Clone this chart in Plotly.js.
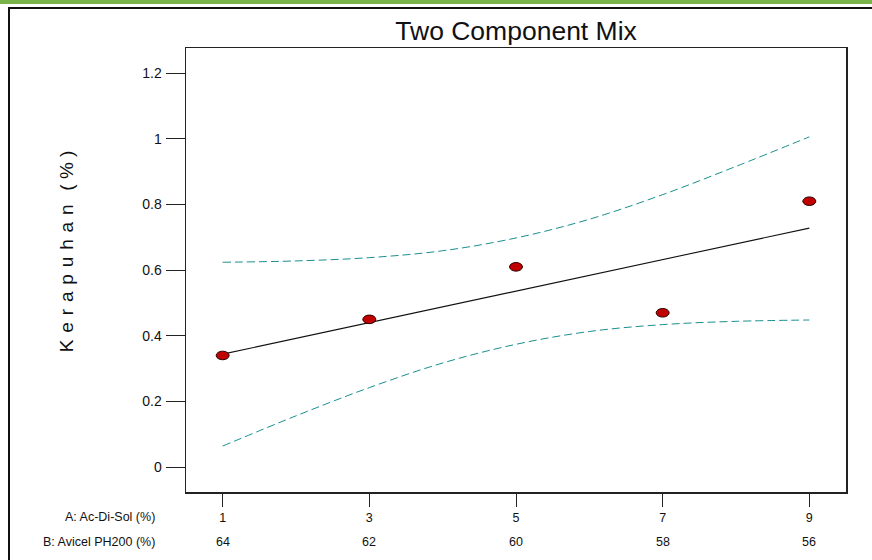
<!DOCTYPE html>
<html>
<head>
<meta charset="utf-8">
<script src="https://cdn.plot.ly/plotly-3.0.1.min.js"></script>
<style>
  html, body { margin: 0; padding: 0; background: #ffffff; overflow: hidden; }
  #wrap { position: relative; width: 872px; height: 560px; overflow: hidden; background: #fff; }
  #topbar { position: absolute; left: 0; top: 0; width: 872px; height: 4px; background: #79b44a; }
  #frame { position: absolute; left: 8px; top: 7px; width: 900px; height: 600px; border-left: 2px solid #111; border-top: 2px solid #111; box-sizing: border-box; }
  #chart { position: absolute; left: 0; top: 0; width: 872px; height: 560px; }
</style>
</head>
<body>
<div id="wrap">
  <div id="topbar"></div>
  <div id="frame"></div>
  <div id="chart"></div>
</div>
<script>
// ---- data ----
const factorA = [1, 3, 5, 7, 9];          // A: Ac-Di-Sol (%)
const factorB = [64, 62, 60, 58, 56];     // B: Avicel PH200 (%)
const obsX = [1, 3, 5, 7, 9];
const obsY = [0.34, 0.45, 0.61, 0.47, 0.81];
const fitX = [1, 9];
const fitY = [0.344, 0.728];
const bandX = [1, 2, 3, 4, 5, 6, 7, 8, 9];
const upperY = [0.624, 0.628, 0.638, 0.659, 0.698, 0.755, 0.830, 0.916, 1.006];
const lowerY = [0.064, 0.156, 0.242, 0.317, 0.374, 0.413, 0.434, 0.444, 0.448];
const yTicks = [0, 0.2, 0.4, 0.6, 0.8, 1, 1.2];
const yTickText = ['0', '0.2', '0.4', '0.6', '0.8', '1', '1.2'];
const rowLabels = ['A: Ac-Di-Sol (%)', 'B: Avicel PH200 (%)'];
const yTitleLetters = ['K','e','r','a','p','u','h','a','n'];
const yTitleUnit = ['(', '%', ')'];

const FONT = 'Arial, "Liberation Sans", sans-serif';
const teal = '#1a8f8f';

const traces = [
  { x: bandX, y: upperY, mode: 'lines', line: { color: teal, width: 1, dash: '8px,4px', shape: 'spline' }, hoverinfo: 'skip', showlegend: false },
  { x: bandX, y: lowerY, mode: 'lines', line: { color: teal, width: 1, dash: '8px,4px', shape: 'spline' }, hoverinfo: 'skip', showlegend: false },
  { x: fitX, y: fitY, mode: 'lines', line: { color: '#111', width: 1.1 }, showlegend: false },
  { x: obsX, y: obsY, mode: 'markers', marker: { color: '#c00000', size: 7, line: { width: 0 } }, showlegend: false }
];

// ellipse markers placed at the data points through the axes
const shapes = obsX.map((x, i) => ({
  type: 'circle', xref: 'x', yref: 'y',
  xsizemode: 'pixel', ysizemode: 'pixel',
  xanchor: x, yanchor: obsY[i],
  x0: -6.5, x1: 6.5, y0: -4.3, y1: 4.3,
  fillcolor: '#c00000', line: { color: '#2a0000', width: 1 }
}));

const XF = { family: FONT, size: 12.5, color: '#111' };
const YF = { family: FONT, size: 14, color: '#111' };
const annotations = [];
factorB.forEach((b, i) => {
  annotations.push({ x: factorA[i], xref: 'x', y: -0.112, yref: 'paper', text: String(b),
    showarrow: false, xanchor: 'center', yanchor: 'middle', font: XF });
});
annotations.push({ x: -0.044, xref: 'paper', y: -0.0555, yref: 'paper', text: rowLabels[0],
  showarrow: false, xanchor: 'right', yanchor: 'middle', font: XF });
annotations.push({ x: -0.044, xref: 'paper', y: -0.112, yref: 'paper', text: rowLabels[1],
  showarrow: false, xanchor: 'right', yanchor: 'middle', font: XF });

const sp = '\u00a0\u200a';
const ytitle = yTitleLetters.join(sp) + sp + sp + yTitleUnit.join('\u00a0');
annotations.push({ x: -0.1818, xref: 'paper', y: 0.5422, yref: 'paper', text: ytitle, textangle: -90,
  showarrow: false, xanchor: 'center', yanchor: 'middle', font: { family: FONT, size: 19, color: '#111' } });

const layout = {
  width: 872, height: 560,
  margin: { l: 186, r: 26, t: 47.5, b: 68, pad: 0 },
  paper_bgcolor: 'rgba(0,0,0,0)',
  plot_bgcolor: '#ffffff',
  showlegend: false,
  title: { text: 'Two Component Mix', font: { family: FONT, size: 26.5, color: '#111' },
    x: 0.5918, xref: 'container', xanchor: 'center', y: 0.9446, yref: 'container', yanchor: 'middle' },
  xaxis: {
    range: [0.5, 9.5], tickmode: 'array', tickvals: factorA, ticktext: factorA.map(String),
    ticks: 'outside', ticklen: 13, tickwidth: 1, tickcolor: '#222',
    showline: true, linecolor: '#222', linewidth: 1.5, mirror: true,
    showgrid: false, zeroline: false, fixedrange: true,
    tickfont: XF
  },
  yaxis: {
    range: [-0.076, 1.2767], tickmode: 'array', tickvals: yTicks, ticktext: yTickText,
    ticks: 'outside', ticklen: 19, tickwidth: 1, tickcolor: '#222', ticklabelstandoff: 1,
    showline: true, linecolor: '#222', linewidth: 1.5, mirror: true,
    showgrid: false, zeroline: false, fixedrange: true,
    tickfont: YF,
    automargin: false
  },
  shapes: shapes,
  annotations: annotations
};

Plotly.newPlot('chart', traces, layout, { displayModeBar: false, staticPlot: true });
</script>
</body>
</html>
